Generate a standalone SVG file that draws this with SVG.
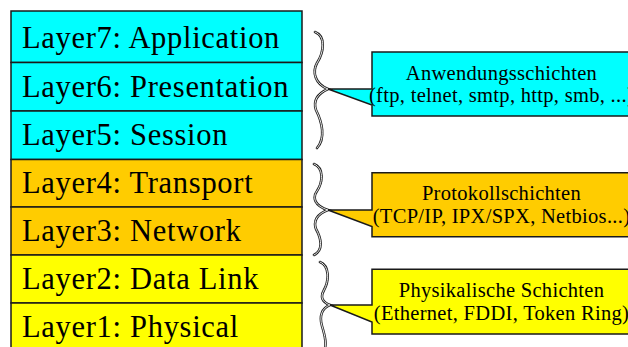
<svg xmlns="http://www.w3.org/2000/svg" width="628" height="347" viewBox="0 0 628 347">
<style>
.layer{stroke:#1a1a1a;stroke-width:1.5}
.lt{font-family:"Liberation Serif","Times New Roman",serif;font-size:30.5px;letter-spacing:0.7px;fill:#000}
.ct{font-family:"Liberation Serif","Times New Roman",serif;font-size:20.5px;letter-spacing:0.3px;fill:#000;text-anchor:middle}
.call{stroke:#1a1a1a;stroke-width:1.5;stroke-linejoin:miter}
.bo{fill:none;stroke:#222;stroke-width:2.6;stroke-linecap:round}
.bi{fill:none;stroke:#fff;stroke-width:0.9;stroke-linecap:round}
.cyan{fill:#00FFFF}.orange{fill:#FFCC00}.yellow{fill:#FFFF00}
</style>
<rect width="628" height="347" fill="#fff"/>
<g id="layer7"><rect class="layer cyan" x="11" y="11" width="291" height="51.5"/><text class="lt" x="22" y="48">Layer7: Application</text></g>
<g id="layer6"><rect class="layer cyan" x="11" y="62.5" width="291" height="48.5"/><text class="lt" x="22" y="96.5">Layer6: Presentation</text></g>
<g id="layer5"><rect class="layer cyan" x="11" y="111" width="291" height="48.5"/><text class="lt" x="22" y="145">Layer5: Session</text></g>
<g id="layer4"><rect class="layer orange" x="11" y="159.5" width="291" height="47.5"/><text class="lt" x="22" y="193.3">Layer4: Transport</text></g>
<g id="layer3"><rect class="layer orange" x="11" y="207" width="291" height="48"/><text class="lt" x="22" y="241">Layer3: Network</text></g>
<g id="layer2"><rect class="layer yellow" x="11" y="255" width="291" height="48"/><text class="lt" x="22" y="289.3">Layer2: Data Link</text></g>
<g id="layer1"><rect class="layer yellow" x="11" y="303" width="291" height="50"/><text class="lt" x="22" y="336.7">Layer1: Physical</text></g>
<g id="connectors">
<path id="brace1" class="bo" d="M315 32 C326 36 324 52 317 63 C312 72 315 84 328 89 C317 94 313 101 316 110 C322 122 326 138 317 148"/>
<path class="bi" d="M315 32 C326 36 324 52 317 63 C312 72 315 84 328 89 C317 94 313 101 316 110 C322 122 326 138 317 148"/>
<path id="brace2" class="bo" d="M314 164 C324 168 323 182 317 191 C312 198 315 206 328 210 C317 214 313 221 316 229 C321 238 324 250 314 255"/>
<path class="bi" d="M314 164 C324 168 323 182 317 191 C312 198 315 206 328 210 C317 214 313 221 316 229 C321 238 324 250 314 255"/>
<path id="brace3" class="bo" d="M320 262 C330 266 329 281 324 290 C320 297 322 302 330 305 C322 308 319 316 322 326 C325 336 327 344 324 352"/>
<path class="bi" d="M320 262 C330 266 329 281 324 290 C320 297 322 302 330 305 C322 308 319 316 322 326 C325 336 327 344 324 352"/>
</g>
<g id="callout1">
<path class="call cyan" d="M372 89 V52 H632 V116 H372 V105 L328 89 Z"/>
<text class="ct" x="501.5" y="79.5">Anwendungsschichten</text>
<text class="ct" x="501.5" y="102">(ftp, telnet, smtp, http, smb, ...)</text>
</g>
<g id="callout2">
<path class="call orange" d="M372 210 V172.7 H632 V236.7 H372 V226.5 L328 210 Z"/>
<text class="ct" x="501.5" y="200">Protokollschichten</text>
<text class="ct" x="501.5" y="223.3">(TCP/IP, IPX/SPX, Netbios...)</text>
</g>
<g id="callout3">
<path class="call yellow" d="M372 305 V269.3 H632 V334 H372 V322 L330 305 Z"/>
<text class="ct" x="501.5" y="297">Physikalische Schichten</text>
<text class="ct" x="501.5" y="320">(Ethernet, FDDI, Token Ring)</text>
</g>
</svg>
